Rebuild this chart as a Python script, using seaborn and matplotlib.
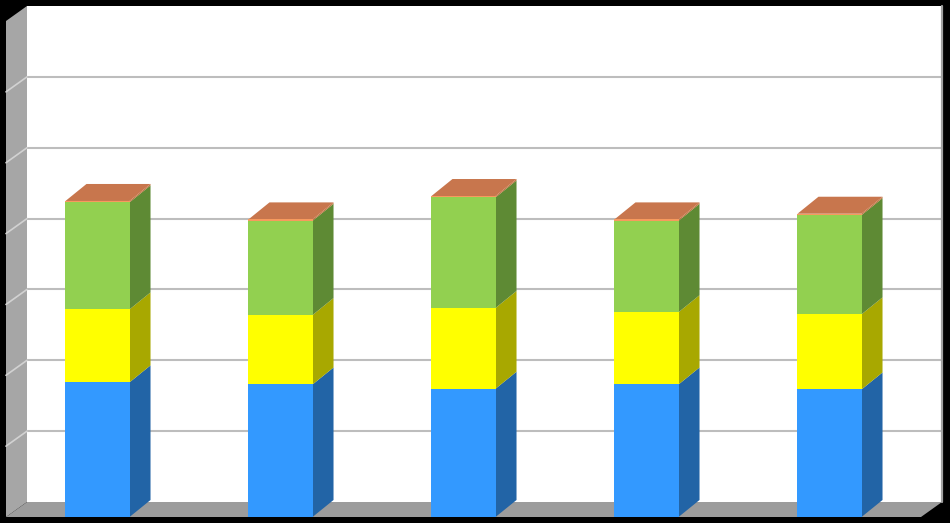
import pandas as pd
import seaborn as sns
import matplotlib.pyplot as plt
from matplotlib.patches import Polygon

categories = ['1', '2', '3', '4', '5']
blue = [19.0, 18.7, 18.1, 18.7, 18.0]
yellow = [10.3, 9.8, 11.4, 10.2, 10.6]
green = [15.1, 13.3, 15.6, 12.9, 14.0]
orange = [0.2, 0.2, 0.2, 0.2, 0.2]
y_max = 70
y_step = 10

front_colors = ['#3399FF', '#FFFF00', '#92D050', '#F79A5E']
side_colors = ['#2264A6', '#A8A800', '#5E8A34', '#C0743F']
top_color = '#C8764D'

sns.set_style('white')

W, H = 950, 523
fig = plt.figure(figsize=(W / 100, H / 100), dpi=100, facecolor='black')
ax = fig.add_axes([6 / W, 6 / H, 915 / W, 496 / H])
ax.set_facecolor('none')

n = len(categories)
bar_w = 0.35
# depth of the pseudo 3d box, in pixels, turned into data units
dx = 21 * n / 915
dy = 15 * y_max / 496
bar_dy = 17 * y_max / 496

df = pd.DataFrame({'cat': categories, 'blue': blue, 'yellow': yellow,
                   'green': green, 'orange': orange})
layers = ['blue', 'yellow', 'green', 'orange']
cum = df[layers].cumsum(axis=1)

# walls and floor
x0, x1 = -0.5, n - 0.5
walls = [
    ([(x0 + dx, dy), (x1 + dx, dy), (x1 + dx, y_max + dy), (x0 + dx, y_max + dy)], 'white', 1),
    ([(x0, 0), (x0, y_max), (x0 + dx, y_max + dy), (x0 + dx, dy)], '#A6A6A6', 2),
    ([(x0, 0), (x1, 0), (x1 + dx, dy), (x0 + dx, dy)], '#9C9C9C', 3),
]
for pts, c, z in walls:
    ax.add_patch(Polygon(pts, closed=True, facecolor=c, edgecolor='none', zorder=z, clip_on=False))
ax.plot([x1 + dx, x1 + dx], [dy, y_max + dy], color='#A0A0A0', lw=1.6, zorder=2, clip_on=False)

for k in range(y_step, y_max, y_step):
    ax.plot([x0 + dx, x1 + dx], [k + dy, k + dy], color='#BDBDBD', lw=1.5, zorder=1.5, clip_on=False)
    ax.plot([x0, x0 + dx], [k, k + dy], color='#D2D2D2', lw=1.2, zorder=2.5, clip_on=False)

# front faces, biggest stack first
for layer, c in reversed(list(zip(layers, front_colors))):
    sns.barplot(data=cum.assign(cat=df['cat']), x='cat', y=layer, color=c, saturation=1,
                width=bar_w, linewidth=0, ax=ax, zorder=5)

# side and top faces
for i in range(n):
    right = i + bar_w / 2
    left = i - bar_w / 2
    lo = 0
    for layer, c in zip(layers, side_colors):
        hi = cum.loc[i, layer]
        ax.add_patch(Polygon([(right, lo), (right, hi), (right + dx, hi + bar_dy), (right + dx, lo + bar_dy)],
                             closed=True, facecolor=c, edgecolor='none', zorder=4, clip_on=False))
        lo = hi
    top = cum.loc[i, 'orange']
    ax.add_patch(Polygon([(left, top), (right, top), (right + dx, top + bar_dy), (left + dx, top + bar_dy)],
                         closed=True, facecolor=top_color, edgecolor='none', zorder=4, clip_on=False))

ax.set_xlim(x0, x1)
ax.set_ylim(0, y_max)
ax.set(xlabel='', ylabel='', xticks=[], yticks=[])
sns.despine(ax=ax, left=True, bottom=True)

fig.savefig('out.png', dpi=100, facecolor='black')
